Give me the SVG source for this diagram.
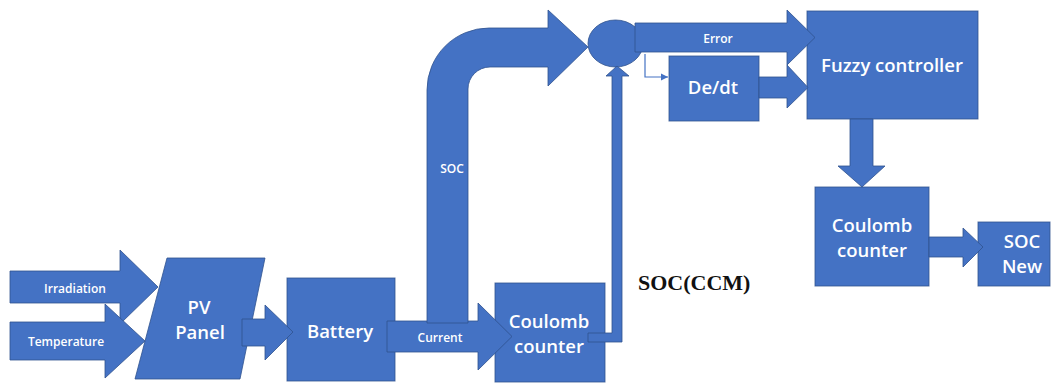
<svg xmlns="http://www.w3.org/2000/svg" width="1058" height="383" viewBox="0 0 1058 383">
<style>
.s{fill:#4472C4;stroke:#2F528F;stroke-width:1;stroke-opacity:0.8}
.t{font-family:"Open Sans",sans-serif;fill:#FFFFFF;text-anchor:middle;font-weight:600}
.b{font-size:18.5px}
.m{font-size:12px}
.thin{fill:none;stroke:#4472C4;stroke-width:1.2}
</style>
<defs>
<marker id="ah" markerWidth="8" markerHeight="8" refX="7" refY="4" orient="auto" markerUnits="userSpaceOnUse">
<path d="M0,0.5 L7,4 L0,7.5 Z" fill="#4472C4"/>
</marker>
</defs>
<rect width="1058" height="383" fill="#FFFFFF"/>
<g id="pv-panel">
<polygon class="s" points="167,258 265,258 240,379 135,379"/>
<text class="t b" x="199" y="314">PV</text>
<text class="t b" x="200" y="339">Panel</text>
</g>
<g id="battery">
<rect class="s" x="287" y="278" width="108" height="103"/>
<text class="t b" x="340" y="338">Battery</text>
</g>
<g id="coulomb-counter-1">
<rect class="s" x="495" y="283" width="110" height="99"/>
<text class="t b" x="549" y="328">Coulomb</text>
<text class="t b" x="549" y="353">counter</text>
</g>
<g id="sum">
<ellipse class="s" cx="615.5" cy="43.5" rx="27.5" ry="23.5"/>
</g>
<g id="dedt">
<rect class="s" x="669" y="56" width="90" height="65"/>
<text class="t b" x="713" y="94">De/dt</text>
</g>
<g id="fuzzy-controller">
<rect class="s" x="807" y="11" width="171" height="108"/>
<text class="t b" x="892" y="72">Fuzzy controller</text>
</g>
<g id="coulomb-counter-2">
<rect class="s" x="815" y="187" width="114" height="99"/>
<text class="t b" x="872" y="232">Coulomb</text>
<text class="t b" x="872" y="257">counter</text>
</g>
<g id="soc-new">
<rect class="s" x="978" y="222" width="72" height="64"/>
<text class="t b" x="1022" y="248">SOC</text>
<text class="t b" x="1022" y="273">New</text>
</g>
<g id="soc-ccm-label">
<text x="638" y="290" font-family="'Liberation Serif',serif" font-weight="bold" font-size="22" fill="#111111">SOC(CCM)</text>
</g>
<g id="connectors">
<g id="irradiation-arrow">
<polygon class="s" points="10,271 120,271 120,250 158,287 120,324 120,303 10,303"/>
<text class="t m" x="75" y="293">Irradiation</text>
</g>
<g id="temperature-arrow">
<polygon class="s" points="10,322 105,322 105,304 145,341 105,378 105,360 10,360"/>
<text class="t m" x="66" y="346">Temperature</text>
</g>
<polygon id="pv-battery" class="s" points="242,319 265,319 265,305 293,332 265,360 265,346 242,346"/>
<g id="current-arrow">
<polygon class="s" points="387,321 478,321 478,303 512,336.5 478,370 478,352 387,352"/>
<text class="t m" x="440" y="342">Current</text>
</g>
<g id="soc-arrow">
<path class="s" d="M427,323 L427,90 A62,62 0 0 1 489,28 L548,28 L548,10 L588,47 L548,86 L548,67 L490,67 A22,22 0 0 0 468,89 L468,323 Z"/>
<text class="t m" x="452" y="173">SOC</text>
</g>
<polygon id="ccm-feedback" class="s" points="588,333 612,333 612,76 606,76 617,66 629,76 622,76 622,342 588,342"/>
<g id="error-arrow">
<polygon class="s" points="635,23 787,23 787,10 815,37.5 787,65 787,52 635,52"/>
<text class="t m" x="718" y="43">Error</text>
</g>
<polyline id="error-dedt" class="thin" points="645,54 645,77 668,77" marker-end="url(#ah)"/>
<polygon id="dedt-fuzzy" class="s" points="759,77 787,77 787,65 808,87.5 787,108 787,98 759,98"/>
<polygon id="fuzzy-coulomb" class="s" points="850,119 873,119 873,166 885,166 862,187 838,166 850,166"/>
<polygon id="coulomb-socnew" class="s" points="929,237 963,237 963,228 983,247 963,267 963,257 929,257"/>
</g>
</svg>
